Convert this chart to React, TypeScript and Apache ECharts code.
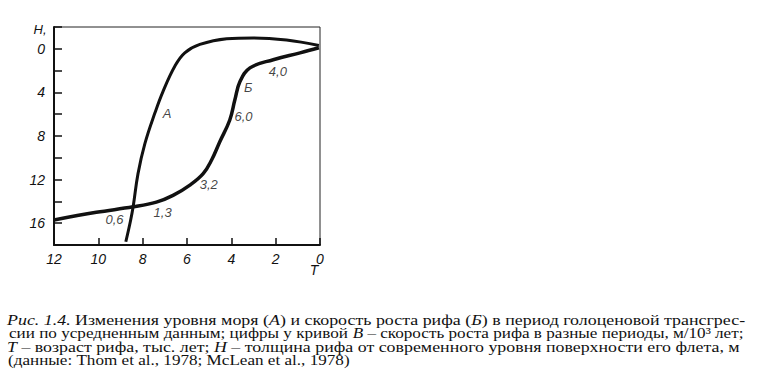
import React, { useEffect, useRef } from 'react';
import * as echarts from 'echarts';

// Sea level curve (А): T (thousand years) vs H (m)
const seaLevelT = [8.76, 8.55, 8.43, 8.21, 7.9, 7.45, 7.08, 6.55, 6.1, 5.42, 4.21, 3.01, 1.51, 0.05];
const seaLevelH = [17.7, 15.8, 14.5, 11.45, 8.7, 5.9, 3.9, 1.6, 0.37, -0.4, -0.92, -1.0, -0.8, -0.3];

// Reef growth curve (Б)
const reefT = [12, 10.09, 8.43, 7.38, 6.63, 5.87, 5.27, 4.89, 4.52, 4.07, 3.84, 3.61, 3.16, 2.11, 0.9, 0.05];
const reefH = [15.7, 15.0, 14.5, 14.07, 13.45, 12.5, 11.45, 10.2, 8.53, 6.53, 4.68, 3.0, 1.75, 1.0, 0.37, -0.1];

// Curve names
const curveLabels = ['А', 'Б'];
const curveLabelT = [6.9, 3.24];
const curveLabelH = [5.9, 3.58];

// Growth rates along curve Б (m / 10^3 years)
const rateLabels = ['4,0', '6,0', '3,2', '1,3', '0,6'];
const rateT = [1.9, 3.45, 5.02, 7.1, 9.27];
const rateH = [2.08, 6.24, 12.44, 15.0, 15.7];

// Axis ticks
const xMin = 0;
const xMax = 12;
const xStep = 2;
const yMin = -2;
const yMax = 18;
const yStep = 2;
const yLabelled = [0, 4, 8, 12, 16];

// Caption lines: [text, italic]
const captionLines: [string, boolean][][] = [
  [['Рис. 1.4.', true], [' Изменения уровня моря (', false], ['А', true], [') и скорость роста рифа (', false], ['Б', true], [') в период голоценовой трансгрес-', false]],
  [['сии по усредненным данным; цифры у кривой ', false], ['В', true], [' – скорость роста рифа в разные периоды, м/10³ лет;', false]],
  [['Т', true], [' – возраст рифа, тыс. лет; ', false], ['Н', true], [' – толщина рифа от современного уровня поверхности его флета, м', false]],
  [['(данные: Thom et al., 1978; McLean et al., 1978)', false]],
];
const captionX = [7, 9, 7, 8];
const captionRight = [745, 744, 740, 350];
const captionY = [320.5, 333.5, 347, 360.5];

const CAP_FONT = 'Liberation Serif';
const CAP_SIZE = 14;
const AX_FONT = 'Liberation Sans';

function measureLine(segs: [string, boolean][]): number {
  const c = document.createElement('canvas');
  const ctx = c.getContext('2d');
  if (!ctx) return 1;
  let w = 0;
  for (const [t, it] of segs) {
    ctx.font = `${it ? 'italic ' : ''}${CAP_SIZE}px "${CAP_FONT}"`;
    w += ctx.measureText(t).width;
  }
  return w;
}

export default function App() {
  const ref = useRef<HTMLDivElement>(null);
  useEffect(() => {
    document.body.style.margin = '0';
    if (!ref.current) return;
    const chart = echarts.init(ref.current, undefined, { renderer: 'svg' });

    const captionGraphics = captionLines.map((segs, i) => {
      const w = measureLine(segs);
      const target = captionRight[i] - captionX[i];
      const sx = w > 0 ? target / w : 1;
      const text = segs.map(([t, it]) => `{${it ? 'i' : 'n'}|${t}}`).join('');
      return {
        type: 'text',
        x: captionX[i],
        y: captionY[i],
        scaleX: sx,
        style: {
          text,
          x: 0,
          y: 0,
          verticalAlign: 'middle',
          align: 'left',
          fill: '#111',
          rich: {
            n: { fontFamily: CAP_FONT, fontSize: CAP_SIZE, fill: '#111' },
            i: { fontFamily: CAP_FONT, fontSize: CAP_SIZE, fontStyle: 'italic', fill: '#111' },
          },
        },
      };
    });

    const option: any = {
      animation: false,
      backgroundColor: '#fff',
      grid: {
        left: 54,
        right: 757 - 320,
        top: 27,
        bottom: 389 - 245,
        show: true,
        borderColor: '#222',
        borderWidth: 1,
      },
      xAxis: {
        type: 'value',
        min: xMin,
        max: xMax,
        interval: xStep,
        inverse: true,
        splitLine: { show: false },
        axisLine: { show: true, onZero: false, lineStyle: { color: '#111', width: 2 } },
        axisTick: { show: true, inside: true, length: 7, lineStyle: { color: '#111', width: 1.5 } },
        axisLabel: {
          margin: 7,
          fontFamily: AX_FONT,
          fontStyle: 'italic',
          fontSize: 14,
          color: '#111',
        },
      },
      yAxis: {
        type: 'value',
        min: yMin,
        max: yMax,
        interval: yStep,
        inverse: true,
        splitLine: { show: false },
        axisLine: { show: true, onZero: false, lineStyle: { color: '#111', width: 2 } },
        axisTick: { show: true, inside: true, length: 8, lineStyle: { color: '#111', width: 1.5 } },
        axisLabel: {
          margin: 9,
          fontFamily: AX_FONT,
          fontStyle: 'italic',
          fontSize: 14,
          color: '#111',
          formatter: (v: number) => (yLabelled.indexOf(v) >= 0 ? String(v) : ''),
        },
      },
      series: [
        {
          type: 'line',
          name: 'А',
          data: seaLevelT.map((t, i) => [t, seaLevelH[i]]),
          smooth: 0.4,
          showSymbol: false,
          lineStyle: { color: '#111', width: 3 },
          z: 3,
        },
        {
          type: 'line',
          name: 'Б',
          data: reefT.map((t, i) => [t, reefH[i]]),
          smooth: 0.4,
          showSymbol: false,
          lineStyle: { color: '#111', width: 3.5 },
          z: 3,
        },
        {
          type: 'scatter',
          symbolSize: 0,
          data: curveLabels
            .map((n, i) => ({ name: n, value: [curveLabelT[i], curveLabelH[i]] }))
            .concat(rateLabels.map((n, i) => ({ name: n, value: [rateT[i], rateH[i]] }))),
          label: {
            show: true,
            position: 'inside',
            formatter: (p: any) => p.name,
            fontFamily: AX_FONT,
            fontStyle: 'italic',
            fontSize: 13,
            color: '#111',
          },
          silent: true,
          z: 4,
        },
      ],
      graphic: [
        {
          type: 'text',
          x: 40,
          y: 29,
          style: {
            text: 'H,',
            fontFamily: AX_FONT,
            fontStyle: 'italic',
            fontSize: 13,
            fill: '#111',
            align: 'center',
            verticalAlign: 'middle',
          },
        },
        {
          type: 'text',
          x: 314,
          y: 270,
          style: {
            text: 'T',
            fontFamily: AX_FONT,
            fontStyle: 'italic',
            fontSize: 14,
            fill: '#111',
            align: 'center',
            verticalAlign: 'middle',
          },
        },
        ...captionGraphics,
      ],
    };
    chart.setOption(option);
    return () => chart.dispose();
  }, []);
  return (
    <div
      ref={ref}
      style={{ position: 'fixed', left: 0, top: 0, width: 757, height: 389, background: '#fff' }}
    />
  );
}
